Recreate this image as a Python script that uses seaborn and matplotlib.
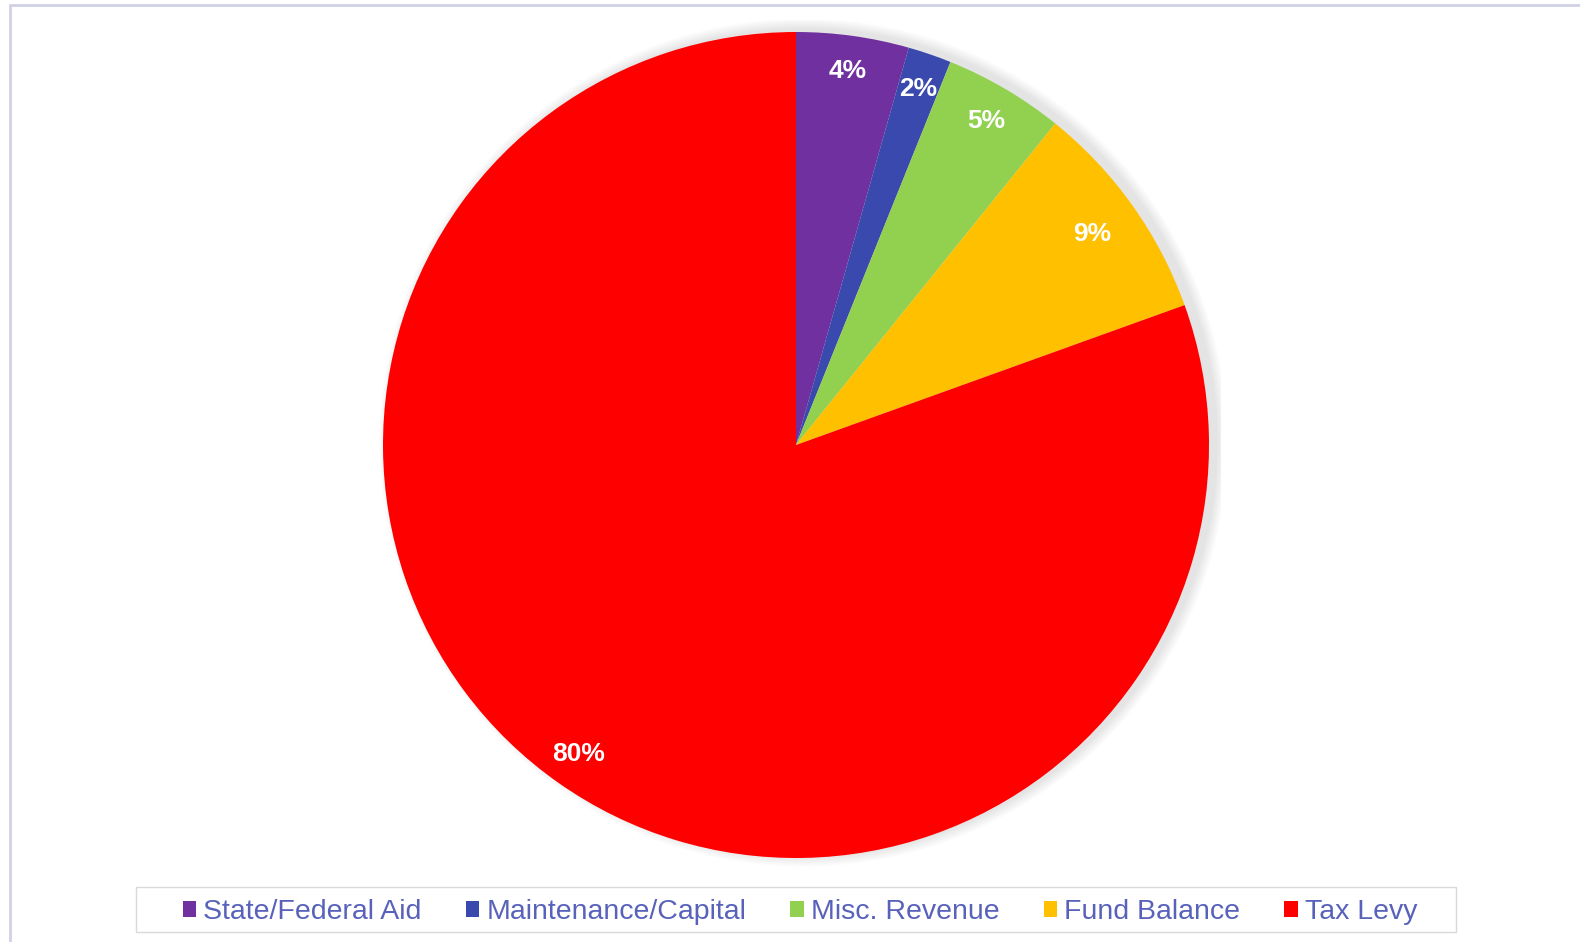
import matplotlib
matplotlib.use("Agg")
import numpy as np
import matplotlib.pyplot as plt
import seaborn as sns
from matplotlib.patches import Patch, Circle, Rectangle
from matplotlib.lines import Line2D

categories = ["State/Federal Aid", "Maintenance/Capital", "Misc. Revenue", "Fund Balance", "Tax Levy"]
values = [4.4, 1.7, 4.7, 8.7, 80.5]
labels = ["4%", "2%", "5%", "9%", "80%"]
colors = ["#7030A0", "#3A49AD", "#92D050", "#FFC000", "#FF0000"]

sns.set_theme(style="white")
plt.rcParams['font.family'] = ['Liberation Sans', 'DejaVu Sans']

W, H = 1580, 942
fig = plt.figure(figsize=(W / 100, H / 100), dpi=100)
fig.patch.set_facecolor("white")

cx, cy, r = 796, 445, 413
pad = 1.03
ax = fig.add_axes([(cx - r * pad) / W, 1 - (cy + r * pad) / H, 2 * r * pad / W, 2 * r * pad / H])
ax.set_aspect("equal")
ax.axis("off")

# soft shadow (offset to the right)
for k in range(1, 10):
    ax.add_patch(Circle((0.018, 0.006), 1.0 + k * 0.003, color="black", alpha=0.012, lw=0, zorder=0))

wedges, texts = ax.pie(values, colors=colors, startangle=90, counterclock=False,
                       radius=1.0, wedgeprops=dict(linewidth=0))
dists = [0.915, 0.91, 0.91, 0.88, 0.915]
for w, lab, d in zip(wedges, labels, dists):
    ang = np.deg2rad((w.theta1 + w.theta2) / 2)
    ax.text(d * np.cos(ang), d * np.sin(ang), lab, ha="center", va="center",
            color="white", fontsize=19, fontweight="bold", zorder=5)
ax.set_xlim(-pad, pad)
ax.set_ylim(-pad, pad)

handles = [Patch(facecolor=c, edgecolor="none", label=n) for c, n in zip(colors, categories)]
leg = fig.legend(handles=handles, loc="center", bbox_to_anchor=(0.5064, 0.032), ncol=5,
                 fontsize=20.5, frameon=False, handlelength=0.47, handleheight=0.47,
                 handletextpad=0.25, columnspacing=1.55, borderpad=0.35, labelcolor="#5862BA")

# legend frame
fig.add_artist(Rectangle((136 / W, 1 - 932 / H), (1456 - 136) / W, 45 / H,
                         transform=fig.transFigure, facecolor="none", edgecolor="#D9D9D9", lw=1.0))

# outer border lines
fig.add_artist(Line2D([10 / W, 1], [1 - 5 / H, 1 - 5 / H], color="#D0D0E6", lw=2))
fig.add_artist(Line2D([10 / W, 10 / W], [0, 1 - 5 / H], color="#D0D0E6", lw=2))

fig.savefig("out.png", dpi=100)
